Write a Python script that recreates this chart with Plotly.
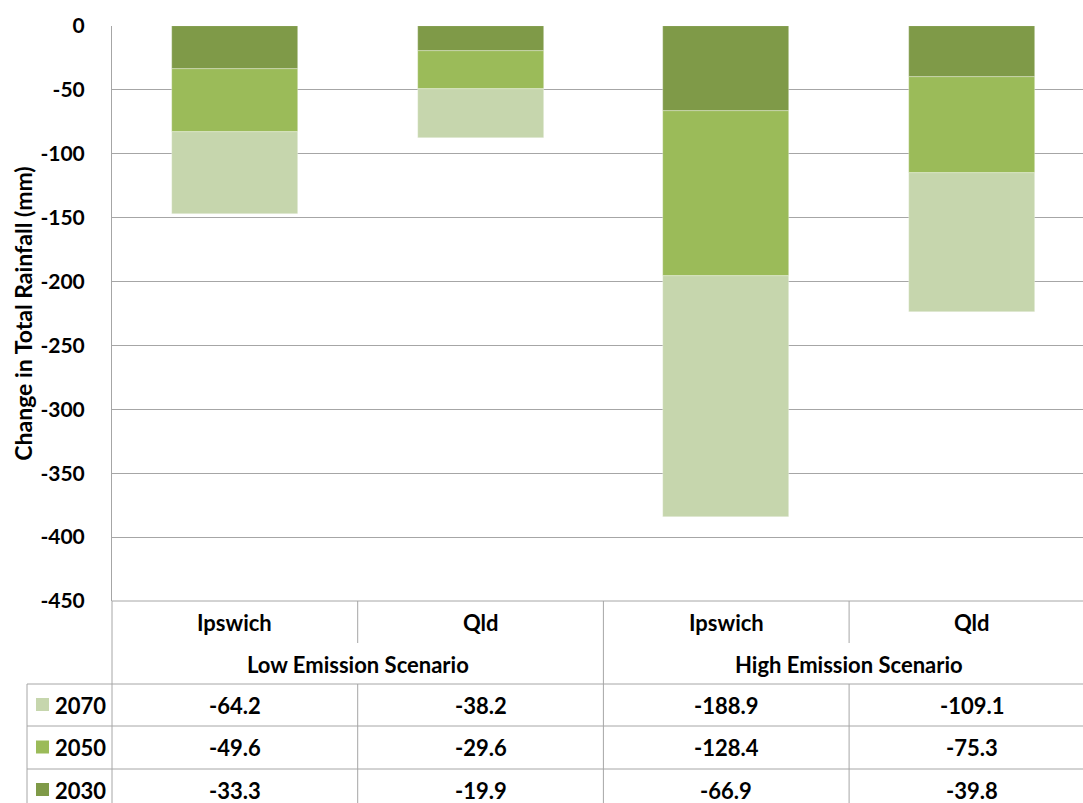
import plotly.graph_objects as go

categories = ["Ipswich", "Qld", "Ipswich", "Qld"]
groups = ["Low Emission Scenario", "High Emission Scenario"]
years = ["2030", "2050", "2070"]
v2030 = [-33.3, -19.9, -66.9, -39.8]
v2050 = [-49.6, -29.6, -128.4, -75.3]
v2070 = [-64.2, -38.2, -188.9, -109.1]
colors = {"2030": "#7f9a48", "2050": "#9bbb59", "2070": "#c6d6ad"}
series = {"2030": v2030, "2050": v2050, "2070": v2070}
table_order = ["2070", "2050", "2030"]
yticks = [0, -50, -100, -150, -200, -250, -300, -350, -400, -450]

W, H = 1083, 803
L, R, T, B = 112, 0, 26, 202
PW = W - L - R
PH = H - T - B
FONT = "Lato"
GRID = "#a6a6a6"

def px(xp):
    return (xp - L) / PW

def py(yp):
    return (H - B - yp) / PH

xs = list(range(len(categories)))
fig = go.Figure()
for yr in years:
    fig.add_trace(go.Bar(
        x=xs, y=series[yr], name=yr, width=0.513,
        marker=dict(color=colors[yr], line=dict(color="rgba(255,255,255,0.5)", width=0.6)),
        showlegend=False,
    ))

cat_w = 245.7
right_val = -0.5 + PW / cat_w

shapes = []
line = dict(color=GRID, width=1)
# bottom axis line of plot area (-450)
shapes.append(dict(type="line", xref="paper", yref="paper", x0=0, x1=1, y0=0, y1=0, line=line))
# horizontal table lines
for yp in [684, 726, 769]:
    shapes.append(dict(type="line", xref="paper", yref="paper", x0=px(27), x1=1, y0=py(yp), y1=py(yp), line=line))
# left table edge
shapes.append(dict(type="line", xref="paper", yref="paper", x0=px(27), x1=px(27), y0=py(684), y1=py(H + 5), line=line))
# axis extension into table
shapes.append(dict(type="line", xref="paper", yref="paper", x0=0, x1=0, y0=py(601), y1=py(H + 5), line=line))
# category dividers
for xb in [0.5, 2.5]:
    shapes.append(dict(type="line", xref="x", yref="paper", x0=xb, x1=xb, y0=py(601), y1=py(643), line=line))
    shapes.append(dict(type="line", xref="x", yref="paper", x0=xb, x1=xb, y0=py(684), y1=py(H + 5), line=line))
# group divider
shapes.append(dict(type="line", xref="x", yref="paper", x0=1.5, x1=1.5, y0=py(601), y1=py(H + 5), line=line))

annotations = []
tf = dict(family=FONT, size=22, color="#000000", weight="bold")
for i, c in enumerate(categories):
    annotations.append(dict(x=i, y=py(622), xref="x", yref="paper", text=c, showarrow=False,
                            yanchor="middle", font=tf))
for g, gname in enumerate(groups):
    annotations.append(dict(x=2 * g + 0.5, y=py(664), xref="x", yref="paper", text=gname, showarrow=False,
                            yanchor="middle", font=tf))
row_centers = [705, 747.5, 790]
for r, yr in enumerate(table_order):
    yc = row_centers[r]
    for i, v in enumerate(series[yr]):
        annotations.append(dict(x=i, y=py(yc), xref="x", yref="paper", text=f"{v:.1f}", showarrow=False,
                                yanchor="middle", font=tf))
    shapes.append(dict(type="rect", xref="paper", yref="paper", x0=px(36), x1=px(49), y0=py(yc + 6), y1=py(yc - 7),
                       fillcolor=colors[yr], line=dict(width=0)))
    annotations.append(dict(x=px(53), y=py(yc), xref="paper", yref="paper", text=yr, showarrow=False,
                            xanchor="left", yanchor="middle", font=tf))

fig.update_layout(
    width=W, height=H,
    margin=dict(l=L, r=R, t=T, b=B, pad=0),
    barmode="relative",
    bargap=0,
    plot_bgcolor="white", paper_bgcolor="white",
    shapes=shapes, annotations=annotations,
    xaxis=dict(range=[-0.5, right_val], showticklabels=False, showgrid=False, zeroline=False,
               showline=False, fixedrange=True),
    yaxis=dict(range=[-450, 0], tickvals=yticks, ticktext=[str(v) for v in yticks],
               showgrid=True, gridcolor=GRID, gridwidth=1, zeroline=False,
               showline=True, linecolor=GRID, linewidth=1,
               ticks="", ticklabelstandoff=22,
               tickfont=dict(family=FONT, size=21, color="#000000", weight="bold"),
               title=dict(text="Change in Total Rainfall (mm)", standoff=1,
                          font=dict(family=FONT, size=23, color="#000000", weight="bold"))),
    showlegend=False,
)

fig.write_html("out.html")
